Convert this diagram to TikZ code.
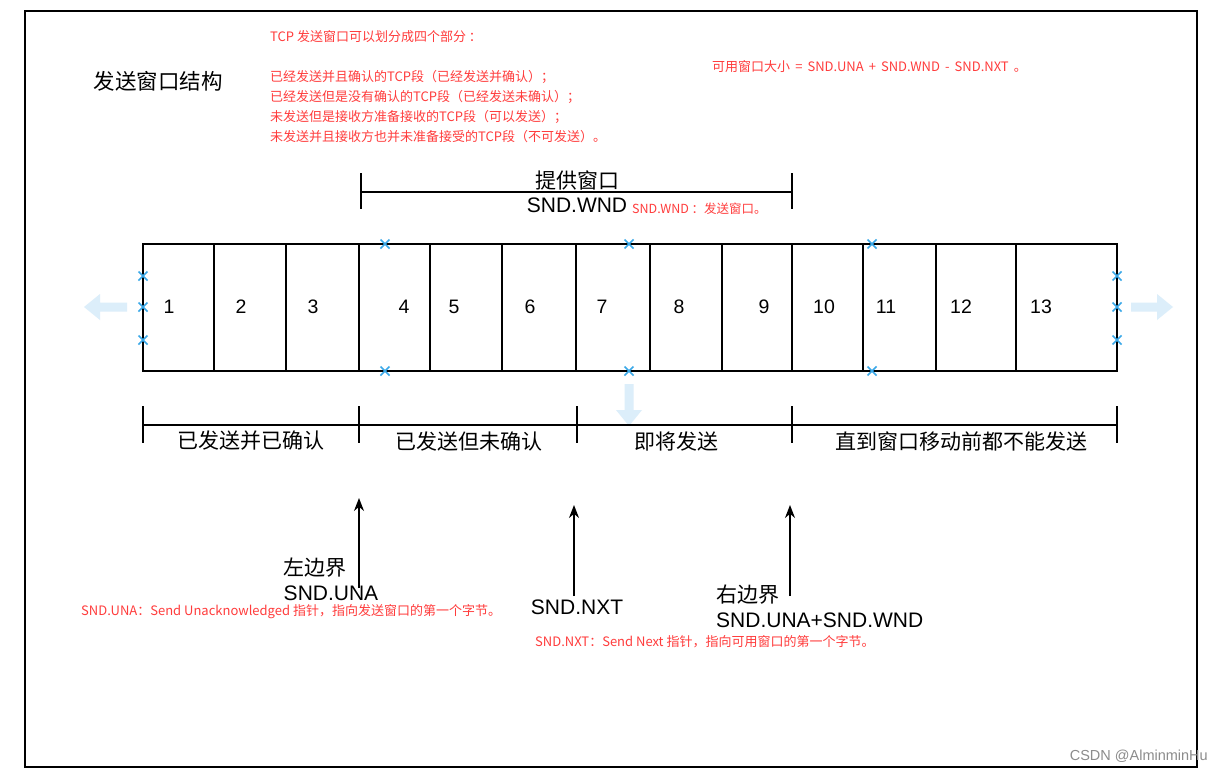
\documentclass[tikz,border=0pt]{standalone}
\usepackage{fontspec}
\setmainfont{Liberation Sans}
\newfontfamily\cjk{Noto Sans CJK SC}
\usetikzlibrary{arrows.meta}
\definecolor{winnote}{HTML}{FF3C3C}
\definecolor{winmark}{HTML}{3AA8E8}
\definecolor{winghost}{HTML}{DCEEFA}
\definecolor{winstamp}{HTML}{8C8C8C}
\tikzset{
  win frame/.style={draw=black, line width=1.8pt},
  win cell/.style={draw=black, line width=1.6pt},
  win divider/.style={draw=black, line width=2.6pt},
  win number/.style={inner sep=0pt, font=\fontsize{19.5}{22}\selectfont},
  win label/.style={inner sep=0pt, font=\fontsize{21}{25}\selectfont\cjk},
  win latin/.style={inner sep=0pt, font=\fontsize{21}{25}\selectfont},
  win note/.style={
    inner sep=0pt, anchor=west, text=winnote,
    font=\fontsize{13}{16}\selectfont\cjk
  },
  win bracket/.style={draw=black, line width=1.4pt},
  win thick tick/.style={draw=black, line width=2.6pt},
  win pointer/.style={
    draw=black, line width=1.5pt,
    -{Stealth[length=13pt,width=10pt]}
  },
  win mark/.style={draw=winmark, line width=1.6pt},
  win ghost/.style={fill=winghost, draw=none}
}

\begin{document}
\begin{tikzpicture}[x=1pt,y=-1pt]
  \useasboundingbox (0,0) rectangle (1223,772);
  \fill[white] (0,0) rectangle (1223,772);
  \draw[win frame] (25,11) rectangle (1197,767);

  % title and notes
  \node[win label, font=\fontsize{21.5}{25}\selectfont\cjk] (title) at (158,81) {发送窗口结构};
  \node[win note] (parts) at (270,37) {TCP 发送窗口可以划分成四个部分 ：};
  \node[win note] (partA) at (270,77) {已经发送并且确认的TCP段（已经发送并确认）；};
  \node[win note] (partB) at (270,97) {已经发送但是没有确认的TCP段（已经发送未确认）；};
  \node[win note] (partC) at (270,117) {未发送但是接收方准备接收的TCP段（可以发送）；};
  \node[win note] (partD) at (270,137) {未发送并且接收方也并未准备接受的TCP段（不可发送）。};
  \node[win note] (usable) at (712,67) {可用窗口大小 \,=\, SND.UNA \,+\, SND.WND \,-\, SND.NXT \,。};

  % offered window
  \draw[win bracket] (361,192) -- (792,192);
  \draw[win bracket] (361,173) -- (361,209);
  \draw[win bracket] (792,173) -- (792,209);
  \node[win label] (offer) at (577,180) {提供窗口};
  \node[win latin] (wnd) at (577,205) {SND.WND};
  \node[win note, font=\fontsize{12.5}{14}\selectfont\cjk] (wndnote) at (632,209) {SND.WND ：发送窗口。};

  % segments
  \draw[win cell] (143,244) rectangle (1117,371);
  \foreach \x in {214,286,359,430,502,576,650,722,792,863,936,1016}
    \draw[win divider] (\x,244) -- (\x,371);
  \foreach \n/\x in {1/169,2/241,3/313,4/404,5/454,6/530,7/602,8/679,9/764,10/824,11/886,12/961,13/1041}
    \node[win number] (num\n) at (\x,307) {\n};

  \foreach \mx/\my in {143/276,143/307,143/340,385/244,385/371,629/244,629/371,872/244,872/371,1117/276,1117/307,1117/340}
    \draw[win mark] (\mx-4.5,\my-4.5) -- (\mx+4.5,\my+4.5) (\mx-4.5,\my+4.5) -- (\mx+4.5,\my-4.5);

  \fill[win ghost] (84,307) -- (100,294) -- (100,302.5) -- (127,302.5) -- (127,311.5) -- (100,311.5) -- (100,320) -- cycle;
  \fill[win ghost] (1173,307) -- (1157,294) -- (1157,302.5) -- (1131,302.5) -- (1131,311.5) -- (1157,311.5) -- (1157,320) -- cycle;
  \fill[win ghost] (629,426) -- (616,410) -- (624.5,410) -- (624.5,384) -- (633.5,384) -- (633.5,410) -- (642,410) -- cycle;

  % categories
  \draw[win bracket] (143,425) -- (1117,425);
  \draw[win bracket] (143,406) -- (143,443);
  \draw[win bracket] (577,406) -- (577,443);
  \draw[win bracket] (1117,406) -- (1117,443);
  \draw[win thick tick] (359,406) -- (359,443);
  \draw[win thick tick] (792,406) -- (792,443);
  \node[win label] (acked) at (251,441) {已发送并已确认};
  \node[win label] (unacked) at (469,441) {已发送但未确认};
  \node[win label] (sendable) at (676,441) {即将发送};
  \node[win label] (blocked) at (961,441) {直到窗口移动前都不能发送};

  % pointers
  \coordinate (unaTail) at (359,588);
  \coordinate (unaTip) at (359,498);
  \coordinate (nxtTail) at (574,596);
  \coordinate (nxtTip) at (574,505);
  \coordinate (rightTail) at (790,596);
  \coordinate (rightTip) at (790,505);
  \draw[win pointer] (unaTail) -- (unaTip);
  \draw[win pointer] (nxtTail) -- (nxtTip);
  \draw[win pointer] (rightTail) -- (rightTip);

  \node[win label, anchor=west] (leftEdge) at (283,568) {左边界};
  \node[win latin] (una) at (331,593) {SND.UNA};
  \node[win latin] (nxt) at (577,607) {SND.NXT};
  \node[win label, anchor=west] (rightEdge) at (716,595) {右边界};
  \node[win latin, anchor=west] (unawnd) at (716,620) {SND.UNA+SND.WND};
  \node[win note] (unanote) at (81,612) {SND.UNA：Send Unacknowledged 指针，指向发送窗口的第一个字节。};
  \node[win note] (nxtnote) at (535,642) {SND.NXT：Send Next 指针，指向可用窗口的第一个字节。};

  \node[inner sep=0pt, anchor=east, text=winstamp, font=\fontsize{14.5}{16}\selectfont] (stamp) at (1208,756) {CSDN @AlminminHu};
\end{tikzpicture}
\end{document}
